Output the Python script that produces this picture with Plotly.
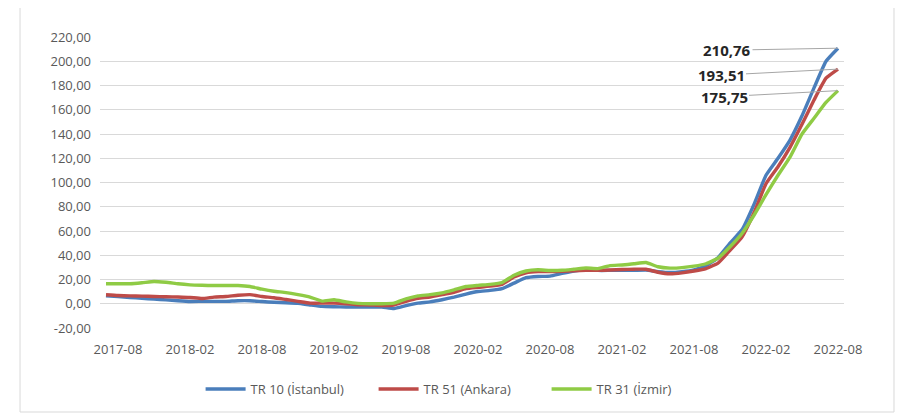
import plotly.graph_objects as go

months = [f"{y}-{m:02d}" for y in range(2017, 2023) for m in range(1, 13)]
months = months[months.index("2017-07"):months.index("2022-08") + 1]

tick_labels = ["2017-08", "2018-02", "2018-08", "2019-02", "2019-08", "2020-02",
               "2020-08", "2021-02", "2021-08", "2022-02", "2022-08"]
y_ticks = [-20, 0, 20, 40, 60, 80, 100, 120, 140, 160, 180, 200, 220]

istanbul = [6.6, 6.0, 5.2, 4.5, 3.8, 3.2, 2.5, 1.9, 2.0, 2.0, 2.0, 2.5, 2.5, 1.8, 1.2, 0.8,
            0.3, -1.0, -2.2, -2.5, -2.7, -2.7, -2.7, -2.8, -4.0, -1.6, 0.5, 1.5, 3.3, 5.5,
            8.0, 10.1, 11.0, 12.5, 17.0, 21.5, 22.5, 22.8, 25.0, 27.0, 28.0, 27.5, 27.5,
            27.5, 27.6, 27.8, 26.5, 25.8, 26.5, 28.0, 31.3, 38.0, 50.0, 61.0, 82.0, 106.0,
            120.0, 135.0, 155.0, 178.0, 200.0, 210.76]
ankara = [7.4, 6.8, 6.5, 6.3, 6.0, 5.8, 5.6, 5.2, 4.3, 5.5, 6.0, 7.0, 7.5, 6.0, 5.0, 3.5,
          2.0, 0.5, 0.5, 0.5, 0.0, -0.8, -1.0, -1.5, -1.0, 2.0, 4.5, 5.5, 7.5, 9.5,
          12.5, 13.5, 14.5, 16.0, 22.0, 25.5, 26.5, 26.5, 26.8, 27.2, 27.5, 27.5, 27.8,
          28.2, 28.5, 28.5, 26.0, 24.7, 25.5, 27.0, 29.0, 33.5, 44.0, 55.0, 75.0, 99.0,
          113.0, 129.0, 148.0, 168.0, 186.0, 193.51]
izmir = [16.5, 16.5, 16.5, 17.3, 18.4, 17.7, 16.5, 15.6, 15.2, 15.0, 15.0, 15.0, 14.2, 12.0,
         10.3, 9.2, 7.5, 5.5, 2.2, 3.3, 1.5, 0.3, 0.0, 0.0, 0.5, 4.0, 6.5, 7.5, 9.0, 11.5,
         14.2, 15.2, 16.0, 17.5, 23.5, 27.0, 28.0, 27.4, 27.6, 28.5, 29.5, 29.0, 31.5,
         32.0, 33.0, 34.0, 30.5, 29.4, 29.8, 31.0, 33.0, 37.6, 47.0, 58.0, 73.0, 90.0,
         106.0, 121.0, 140.0, 153.0, 166.0, 175.75]

series = [
    ("TR 10 (İstanbul)", istanbul, "#4A7EBB"),
    ("TR 51 (Ankara)", ankara, "#BE4B48"),
    ("TR 31 (İzmir)", izmir, "#8FCB45"),
]


def fmt(v):
    return f"{v:.2f}".replace(".", ",")


fig = go.Figure()
for name, vals, col in series:
    fig.add_trace(go.Scatter(x=months, y=vals, mode="lines", name=name,
                             line=dict(color=col, width=3.4, shape="spline", smoothing=0.4)))

label_offsets = [(-111, 2), (-117, 6), (-114, 6)]
for (name, vals, col), (ax, ay) in zip(series, label_offsets):
    fig.add_annotation(x=months[-1], y=vals[-1], text=f"<b>{fmt(vals[-1])}</b>",
                       showarrow=True, arrowhead=0, arrowwidth=1, arrowcolor="#A6A6A6",
                       ax=ax, ay=ay, font=dict(size=15, color="#262626", family="Open Sans"),
                       xanchor="center")

gray = "#595959"
fig.update_layout(
    width=900, height=408,
    margin=dict(l=92, r=64, t=29, b=88, autoexpand=False),
    paper_bgcolor="white", plot_bgcolor="white",
    font=dict(family="Open Sans", size=13, color=gray),
    showlegend=True,
    legend=dict(orientation="h", x=0.484, xanchor="center", y=-0.21, yanchor="middle",
                font=dict(size=13, color=gray), itemwidth=40,
                entrywidth=118, entrywidthmode="pixels"),
    shapes=[dict(type="rect", xref="paper", yref="paper", x0=-0.1075, x1=1.0672,
                 y0=-0.2887, y1=1.1168, line=dict(color="#D9D9D9", width=1))],
)
fig.update_xaxes(type="category", categoryorder="array", categoryarray=months,
                 range=[-0.5, len(months) - 0.5], tickmode="array", tickvals=tick_labels,
                 ticktext=tick_labels, showgrid=False, ticks="", showline=False,
                 tickfont=dict(size=13, color=gray), ticklabelstandoff=12, automargin=False)
fig.update_yaxes(range=[-20, 220], tickmode="array", tickvals=y_ticks,
                 ticktext=[fmt(v) for v in y_ticks], showgrid=True,
                 gridcolor="#D9D9D9", gridwidth=1, zeroline=False, showline=False, ticks="",
                 tickfont=dict(size=13, color=gray), ticklabelstandoff=8, automargin=False)

fig.write_html("out.html")
